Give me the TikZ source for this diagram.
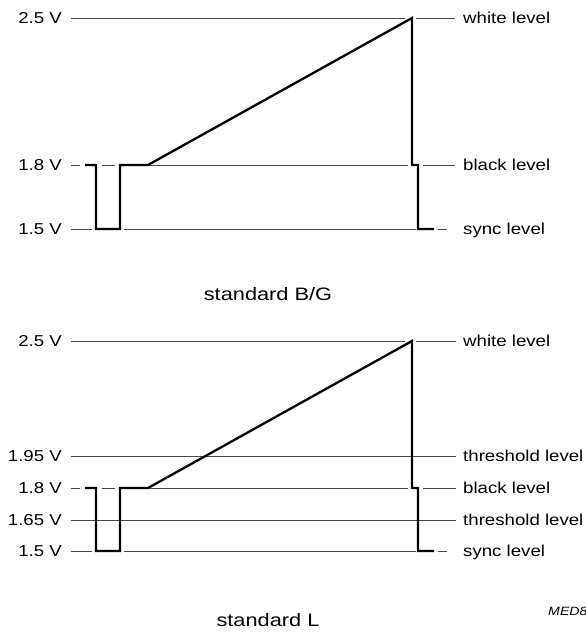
\documentclass[tikz,border=0pt]{standalone}
\usepackage{fontspec}
\setmainfont{Liberation Sans}
\newcommand\hsx[2][1.18]{\scalebox{#1}[1]{#2}}
\begin{document}
\begin{tikzpicture}[x=1pt,y=-1pt,
  lvl/.style={line width=1pt, black!72},
  wave/.style={line width=2.3pt, line join=miter, line cap=butt},
  lab/.style={font=\fontsize{15.8}{18}\selectfont, inner sep=0pt},
  captext/.style={font=\fontsize{18}{21}\selectfont, inner sep=0pt, anchor=base},
  codetext/.style={font=\fontsize{12}{14}\selectfont\itshape, inner sep=0pt, anchor=base west}]
\useasboundingbox (0,0) rectangle (586,632);

% ---------- standard B/G ----------
% level lines
\draw[lvl] (71,18) -- (405,18) (416,18) -- (455,18);
\draw[lvl] (71,165) -- (80,165) (102,165) -- (115,165) (124,165) -- (408,165) (423,165) -- (455,165);
\draw[lvl] (71,229) -- (92,229) (124,229) -- (416,229) (438,229) -- (447,229);
% waveform
\draw[wave] (85,165) -- (96,165) -- (96,229) -- (120,229) -- (120,165) -- (148,165)
  -- (412,18) -- (412,165) -- (418,165) -- (418,229) -- (434,229);
% labels
\node[lab, anchor=base east] (ta) at (62,23.6) {\hsx{2.5 V}};
\node[lab, anchor=base east] (tb) at (62,170.6) {\hsx{1.8 V}};
\node[lab, anchor=base east] (tc) at (62,234.6) {\hsx{1.5 V}};
\node[lab, anchor=base west] (tw) at (463,23.6) {\hsx{white level}};
\node[lab, anchor=base west] (tk) at (463,170.6) {\hsx{black level}};
\node[lab, anchor=base west] (ts) at (463,234.6) {\hsx{sync level}};
\node[captext] (capa) at (268,300.7) {\hsx[1.21]{standard B/G}};

% ---------- standard L ----------
\draw[lvl] (71,341) -- (405,341) (416,341) -- (456,341);
\draw[lvl] (71,456) -- (456,456);
\draw[lvl] (71,488) -- (80,488) (102,488) -- (115,488) (124,488) -- (408,488) (423,488) -- (456,488);
\draw[lvl] (71,520) -- (456,520);
\draw[lvl] (71,551) -- (92,551) (124,551) -- (416,551) (438,551) -- (447,551);
\draw[wave] (85,488) -- (96,488) -- (96,551) -- (120,551) -- (120,488) -- (148,488)
  -- (412,341) -- (412,488) -- (418,488) -- (418,551) -- (434,551);
\node[lab, anchor=base east] (ba) at (62,346.6) {\hsx{2.5 V}};
\node[lab, anchor=base east] (bb) at (62,461.6) {\hsx{1.95 V}};
\node[lab, anchor=base east] (bc) at (62,493.6) {\hsx{1.8 V}};
\node[lab, anchor=base east] (bd) at (62,525.6) {\hsx{1.65 V}};
\node[lab, anchor=base east] (be) at (62,556.6) {\hsx{1.5 V}};
\node[lab, anchor=base west] (bw) at (463,346.6) {\hsx{white level}};
\node[lab, anchor=base west] (bt1) at (463,461.6) {\hsx{threshold level}};
\node[lab, anchor=base west] (bk) at (463,493.6) {\hsx{black level}};
\node[lab, anchor=base west] (bt2) at (463,525.6) {\hsx{threshold level}};
\node[lab, anchor=base west] (bs) at (463,556.6) {\hsx{sync level}};
\node[captext] (capb) at (268,626) {\hsx[1.21]{standard L}};
\node[codetext] (code) at (548,615.5) {\hsx{MED8}};
\end{tikzpicture}
\end{document}
